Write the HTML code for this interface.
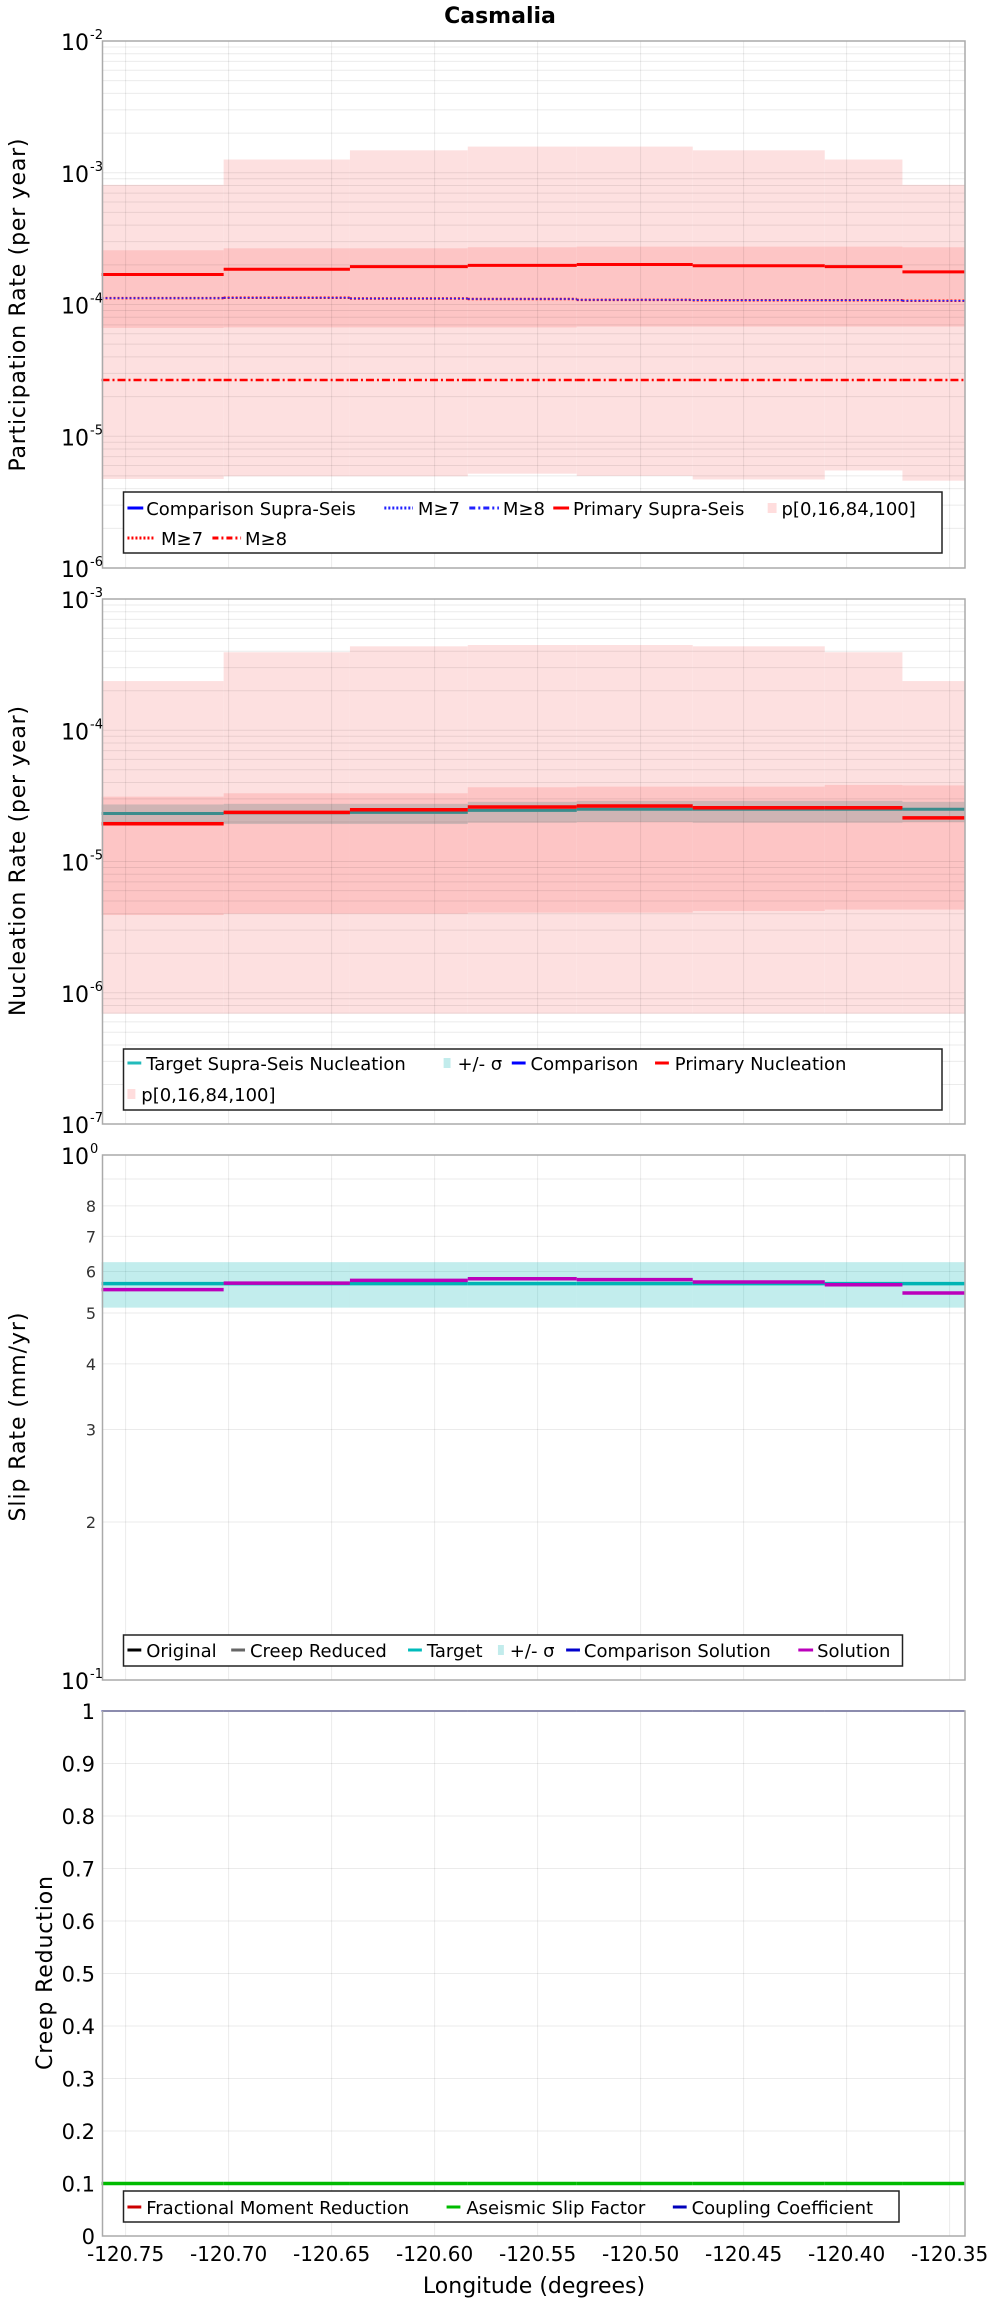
<!DOCTYPE html>
<html><head><meta charset="utf-8"><style>
html,body{margin:0;padding:0;background:#fff;}
svg{display:block;font-family:"DejaVu Sans","Liberation Sans",sans-serif;}
</style></head><body>
<svg id="fig" width="1000" height="2300" viewBox="0 0 1000 2300" xmlns="http://www.w3.org/2000/svg">
<text x="500" y="23" text-anchor="middle" font-size="22" font-weight="bold">Casmalia</text>
<g id="layers"></g>
</svg>
<script>
// shared x data
const lonEdges = [-120.7617, -120.7024, -120.6411, -120.5839, -120.5310, -120.4747, -120.4106, -120.3729, -120.3428];
const xTickLabels = ["-120.75","-120.70","-120.65","-120.60","-120.55","-120.50","-120.45","-120.40","-120.35"];
const xTickValues = [-120.75,-120.70,-120.65,-120.60,-120.55,-120.50,-120.45,-120.40,-120.35];

// panel 1: participation
const partOuterHi = [8.1e-4,1.26e-3,1.48e-3,1.58e-3,1.58e-3,1.48e-3,1.26e-3,8.1e-4];
const partOuterLo = [4.74e-6,4.97e-6,4.97e-6,5.2e-6,5.0e-6,4.7e-6,5.5e-6,4.6e-6];
const partInnerHi = [2.58e-4,2.67e-4,2.67e-4,2.72e-4,2.75e-4,2.75e-4,2.75e-4,2.72e-4];
const partInnerLo = [6.64e-5,6.7e-5,6.7e-5,6.7e-5,6.8e-5,6.8e-5,6.8e-5,6.8e-5];
const partPrimary = [1.69e-4,1.85e-4,1.94e-4,1.98e-4,2.01e-4,1.97e-4,1.94e-4,1.77e-4];
const partM7 = [1.119e-4,1.124e-4,1.11e-4,1.10e-4,1.085e-4,1.076e-4,1.076e-4,1.067e-4];
const partM8 = [2.67e-5,2.67e-5,2.67e-5,2.67e-5,2.67e-5,2.67e-5,2.67e-5,2.67e-5];

// panel 2: nucleation
const nuclOuterHi = [2.37e-4,3.93e-4,4.36e-4,4.46e-4,4.46e-4,4.36e-4,3.93e-4,2.37e-4];
const nuclOuterLo = [6.93e-7,6.93e-7,6.93e-7,6.93e-7,6.93e-7,6.93e-7,6.93e-7,6.93e-7];
const nuclInnerHi = [3.12e-5,3.31e-5,3.31e-5,3.68e-5,3.72e-5,3.72e-5,3.83e-5,3.8e-5];
const nuclInnerLo = [3.91e-6,4.0e-6,4.0e-6,4.08e-6,4.08e-6,4.2e-6,4.3e-6,4.3e-6];
const nuclSigmaHi = [2.72e-5,2.75e-5,2.75e-5,2.85e-5,2.9e-5,2.9e-5,2.9e-5,2.85e-5];
const nuclSigmaLo = [1.93e-5,1.93e-5,1.93e-5,1.98e-5,2.0e-5,1.98e-5,1.98e-5,2.0e-5];
const nuclTarget = [2.32e-5,2.35e-5,2.37e-5,2.45e-5,2.5e-5,2.5e-5,2.5e-5,2.5e-5];
const nuclPrimary = [1.94e-5,2.37e-5,2.48e-5,2.6e-5,2.65e-5,2.57e-5,2.57e-5,2.15e-5];

// panel 3: slip rate
const slipSigmaHi = [6.25,6.25,6.25,6.25,6.25,6.25,6.25,6.25];
const slipSigmaLo = [5.12,5.12,5.12,5.12,5.12,5.12,5.12,5.12];
const slipTarget = [5.69,5.69,5.69,5.69,5.69,5.69,5.69,5.69];
const slipSolution = [5.54,5.70,5.77,5.81,5.79,5.73,5.66,5.46];
const slipTickValues = [2,3,4,5,6,7,8];

// panel 4: creep
const creepAseismic = [0.1,0.1,0.1,0.1,0.1,0.1,0.1,0.1];
const creepCoupling = [1,1,1,1,1,1,1,1];
const creepTickLabels = ["0","0.1","0.2","0.3","0.4","0.5","0.6","0.7","0.8","0.9","1"];

const NS="http://www.w3.org/2000/svg";
const root=document.getElementById('layers');
const PL=102.5, PR=965;
const xS=v=>125.6+(v+120.75)/0.05*103;
const L=x=>x*0.988;
function el(tag,attrs,parent){const e=document.createElementNS(NS,tag);for(const k in attrs)e.setAttribute(k,attrs[k]);(parent||root).appendChild(e);return e;}
function logY(top,bot,lo,hi){return v=>bot-(Math.log10(v)-Math.log10(lo))/(Math.log10(hi)-Math.log10(lo))*(bot-top);}
function band(y,hi,lo,fill,name){for(let i=0;i<hi.length;i++){const r=el('rect',{x:xS(lonEdges[i]),y:y(hi[i]),width:xS(lonEdges[i+1])-xS(lonEdges[i]),height:y(lo[i])-y(hi[i]),fill:fill});

}}
function steps(y,vals,stroke,w,name,dash){for(let i=0;i<vals.length;i++){const a={x1:xS(lonEdges[i]),x2:xS(lonEdges[i+1]),y1:y(vals[i]),y2:y(vals[i]),stroke:stroke,'stroke-width':w};if(dash)a['stroke-dasharray']=dash;const l=el('line',a);

}}
function frame(top,bot,name){const r=el('rect',{x:PL,y:top,width:PR-PL,height:bot-top,fill:'none',stroke:'#aaa','stroke-width':1.5});

}
function vgrid(top,bot){xTickValues.forEach(v=>{const l=el('line',{x1:xS(v),x2:xS(v),y1:top,y2:bot,stroke:'rgba(0,0,0,0.08)','stroke-width':1});

});}
function logGrid(top,bot,d0,d1,y){for(let d=d0;d<d1;d++)for(let m=1;m<10;m++){const yy=y(m*Math.pow(10,d));const l=el('line',{x1:PL,x2:PR,y1:yy,y2:yy,stroke:'rgba(0,0,0,0.08)','stroke-width':1});

}}
function powLabels(y,d0,d1){for(let d=d0;d<=d1;d++){const yy=y(Math.pow(10,d));const t=el('text',{x:89,y:yy+9,'text-anchor':'end','font-size':22});t.textContent='10';


const s=el('text',{x:90,y:yy-2,'font-size':13});s.textContent=String(d);

}}
function ytitle(x,cy,txt,len,name){const t=el('text',{x:x,y:cy,'text-anchor':'middle','font-size':22,transform:`rotate(-90 ${x} ${cy})`,textLength:len,lengthAdjust:'spacing'});t.textContent=txt;

}
function legendBox(x,y,w,h,name){const r=el('rect',{x:x,y:y,width:w,height:h,fill:'#fff',stroke:'#222','stroke-width':1.5});

}
function legItem(sx,ex,tx,cy,txt,stroke,type,name){
 sx=L(sx);ex=L(ex);tx=L(tx);
 let s;
 if(type==='sq'){s=el('rect',{x:sx,y:cy-5,width:ex-sx,height:10,fill:stroke});}
 else{const a={x1:sx,x2:ex,y1:cy,y2:cy,stroke:stroke,'stroke-width':3};if(type)a['stroke-dasharray']=type;s=el('line',a);}
 
 
 const t=el('text',{x:tx,y:cy+7,'font-size':18});t.textContent=txt;
 
 }

const OUTER='#fde0e0', INNER='#fdc5c5';

// ---------- Panel 1 ----------
{const T=41,B=568,y=logY(T,B,1e-6,1e-2);
band(y,partOuterHi,partOuterLo,OUTER,'p0-100-band');
band(y,partInnerHi,partInnerLo,INNER,'p16-84-band');
logGrid(T,B,-6,-2,y);vgrid(T,B);
steps(y,partPrimary,'#f00',3,'primary-supra-seis');
steps(y,partM7,'#f00',2.5,'primary-m7','2,2');
steps(y,partM7,'#22f',1.5,'comparison-m7','2,2');
steps(y,partM8,'#f00',2.5,'primary-m8','8,3,2,3');
frame(T,B,'participation-plot');powLabels(y,-6,-2);
ytitle(25,305,'Participation Rate (per year)',333,'participation-y-axis-title');
legendBox(123.5,492,818.5,61,'participation-legend');
legItem(129,145,148,508,'Comparison Supra-Seis','#00f',null,'legend-comparison-supra-seis');
legItem(389,418,423,508,'M≥7','#22f','2,2','legend-comparison-m7');
legItem(475,505,509,508,'M≥8','#22f','6,3,2,3','legend-comparison-m8');
legItem(560,576,580,508,'Primary Supra-Seis','#f00',null,'legend-primary-supra-seis');
legItem(777,786,791,508,'p[0,16,84,100]','#fdd','sq','legend-percentiles');
legItem(129,157,163,538,'M≥7','#f00','2,2','legend-primary-m7');
legItem(215,244,248,538,'M≥8','#f00','6,3,2,3','legend-primary-m8');}

// ---------- Panel 2 ----------
{const T=599,B=1124,y=logY(T,B,1e-7,1e-3);
band(y,nuclOuterHi,nuclOuterLo,OUTER,'nucl-p0-100-band');
band(y,nuclInnerHi,nuclInnerLo,INNER,'nucl-p16-84-band');
band(y,nuclSigmaHi,nuclSigmaLo,'rgba(120,150,150,0.35)','nucl-sigma-band');
logGrid(T,B,-7,-3,y);vgrid(T,B);
steps(y,nuclTarget,'#3a8c8c',3,'target-nucleation');
steps(y,nuclPrimary,'#f00',3.5,'primary-nucleation');
frame(T,B,'nucleation-plot');powLabels(y,-7,-3);
ytitle(25,861,'Nucleation Rate (per year)',310,'nucleation-y-axis-title');
legendBox(123.5,1049,818.5,61,'nucleation-legend');
legItem(129,143,148,1063,'Target Supra-Seis Nucleation','#2bb',null,'legend-target-nucleation');
legItem(449,456,463,1063,'+/- σ','#c2ecec','sq','legend-sigma');
legItem(518,532,537,1063,'Comparison','#00f',null,'legend-comparison');
legItem(663,677,683,1063,'Primary Nucleation','#f00',null,'legend-primary-nucleation');
legItem(129,137,143,1094,'p[0,16,84,100]','#fdd','sq','legend-percentiles-2');}

// ---------- Panel 3 ----------
{const T=1155,B=1680,y=logY(T,B,1,10);
for(let m=1;m<=10;m++){const yy=y(m);const l=el('line',{x1:PL,x2:PR,y1:yy,y2:yy,stroke:'rgba(0,0,0,0.08)','stroke-width':1});

}
vgrid(T,B);
band(y,slipSigmaHi,slipSigmaLo,'rgba(0,180,180,0.24)','slip-sigma-band');
steps(y,slipTarget,'#00b4b4',3.5,'slip-target');
steps(y,slipSolution,'#b0b',3.5,'slip-solution');
frame(T,B,'slip-plot');
slipTickValues.forEach(v=>{const t=el('text',{x:96,y:y(v)+6,'text-anchor':'end','font-size':16,fill:'#333'});t.textContent=String(v);

});
powLabels(logY(T,B,0.1,1),-1,0);
ytitle(25,1417,'Slip Rate (mm/yr)',209,'slip-y-axis-title');
legendBox(123.5,1635,779,31,'slip-legend');
legItem(129,143,148,1650,'Original','#000',null,'legend-original');
legItem(234,248,253,1650,'Creep Reduced','#666',null,'legend-creep-reduced');
legItem(413,427,432,1650,'Target','#0bb',null,'legend-target');
legItem(504,510,516,1650,'+/- σ','#c2ecec','sq','legend-slip-sigma');
legItem(573,587,591,1650,'Comparison Solution','#00c',null,'legend-comparison-solution');
legItem(808,823,827,1650,'Solution','#b0b',null,'legend-solution');}

// ---------- Panel 4 ----------
{const T=1711,B=2236,y=v=>B-v*(B-T);
creepTickLabels.forEach(s=>{const v=parseFloat(s);const l=el('line',{x1:PL,x2:PR,y1:y(v),y2:y(v),stroke:'rgba(0,0,0,0.08)','stroke-width':1});


const t=el('text',{x:95,y:y(v)+8,'text-anchor':'end','font-size':21});t.textContent=s;

});
vgrid(T,B);
steps(y,creepAseismic,'#0b0',3.5,'aseismic-slip-factor');
steps(y,creepCoupling,'#33b',2,'coupling-coefficient');
frame(T,B,'creep-plot');
ytitle(52,1973,'Creep Reduction',194,'creep-y-axis-title');
legendBox(123.5,2191,775.5,31,'creep-legend');
legItem(129,143,148,2207,'Fractional Moment Reduction','#c00',null,'legend-fractional-moment');
legItem(452,466,472,2207,'Aseismic Slip Factor','#0b0',null,'legend-aseismic');
legItem(681,695,700,2207,'Coupling Coefficient','#00b',null,'legend-coupling');
xTickValues.forEach((v,i)=>{const t=el('text',{x:xS(v),y:2261,'text-anchor':'middle','font-size':20});t.textContent=xTickLabels[i];

});
const xt=el('text',{x:534,y:2293,'text-anchor':'middle','font-size':22});xt.textContent='Longitude (degrees)';

}
</script>
</body></html>
